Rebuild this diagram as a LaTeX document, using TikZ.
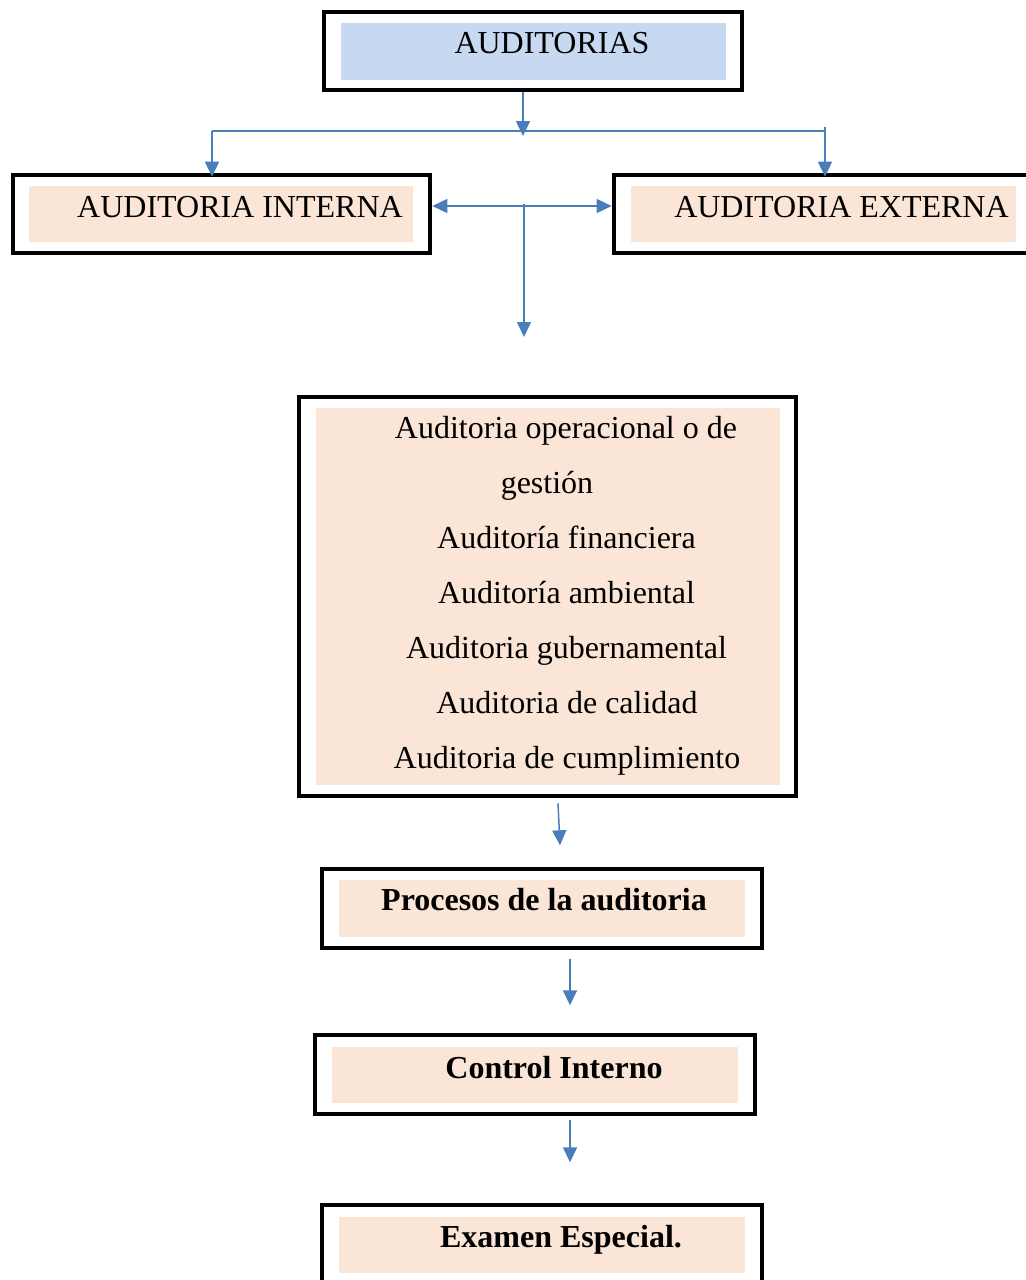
\documentclass[tikz,border=0pt]{standalone}
\usepackage{fontspec}
\setmainfont{Liberation Serif}
\usetikzlibrary{arrows.meta}
\definecolor{bluefill}{HTML}{C6D9F1}
\definecolor{peach}{HTML}{FBE5D6}
\definecolor{linkblue}{HTML}{4A7EBB}
\begin{document}
\begin{tikzpicture}[x=0.5pt,y=-0.5pt,
  frame/.style={draw=black,line width=2.3pt,inner sep=0pt},
  shade/.style={inner sep=0pt,fill=peach},
  txt/.style={inner sep=0pt,anchor=base,font=\fontsize{16}{19}\selectfont},
  link/.style={draw=linkblue,line width=0.75pt,-{Triangle[length=7.5pt,width=7pt]}}]
\useasboundingbox (0,0) rectangle (1025,1280);
\node [frame,minimum width=209pt,minimum height=39pt] (top) at (533,51) {};
\node [shade,fill=bluefill,minimum width=192.5pt,minimum height=28.5pt] (top-bg) at (533.5,51.5) {};
\node [txt] (top-txt) at (552,53) {AUDITORIAS};
\node [frame,minimum width=208.5pt,minimum height=39pt] (intern) at (221.5,214) {};
\node [shade,minimum width=192pt,minimum height=28pt] (intern-bg) at (221,214) {};
\node [txt] (intern-txt) at (240,217) {AUDITORIA INTERNA};
\node [frame,minimum width=209.5pt,minimum height=39pt] (extern) at (823.5,214) {};
\node [shade,minimum width=192.5pt,minimum height=28pt] (extern-bg) at (823.5,214) {};
\node [txt] (extern-txt) at (841.5,217) {AUDITORIA EXTERNA};
\node [frame,minimum width=248.5pt,minimum height=199.5pt] (kinds) at (547.5,596.5) {};
\node [shade,minimum width=232pt,minimum height=188.5pt] (kinds-bg) at (548,596.5) {};
\foreach \x/\t [count=\i] in {566/Auditoria operacional o de,547/gestión,566.5/Auditoría financiera,566.5/Auditoría ambiental,566.5/Auditoria gubernamental,567/Auditoria de calidad,567/Auditoria de cumplimiento}
  \node [txt] (kind-\i) at (\x,{438+55*(\i-1)}) {\t};
\node [frame,minimum width=220pt,minimum height=39.5pt] (proc) at (542,908.5) {};
\node [shade,minimum width=203pt,minimum height=28.5pt] (proc-bg) at (542,908.5) {};
\node [txt,font=\fontsize{16}{19}\selectfont\bfseries] (proc-txt) at (544,910) {Procesos de la auditoria};
\node [frame,minimum width=220pt,minimum height=39.5pt] (ctrl) at (535,1074.5) {};
\node [shade,minimum width=203pt,minimum height=28pt] (ctrl-bg) at (535,1075) {};
\node [txt,font=\fontsize{16}{19}\selectfont\bfseries] (ctrl-txt) at (554,1078) {Control Interno};
\node [frame,minimum width=220pt,minimum height=39.5pt] (exam) at (542,1244.5) {};
\node [shade,minimum width=203pt,minimum height=28pt] (exam-bg) at (542,1245) {};
\node [txt,font=\fontsize{16}{19}\selectfont\bfseries] (exam-txt) at (561,1247) {Examen Especial.};
\coordinate (split) at (523,136);
\coordinate (bl) at (212,131);
\coordinate (br) at (825,131);
\coordinate (mid) at (524,206);
\coordinate (down) at (524,337);
\draw [link] (top.south -| split) -- (split);
\draw [linkblue,line width=0.75pt] (bl) -- (br) -- ++(0,-4);
\draw [link] (bl) -- ([yshift=-2pt]bl |- intern.north);
\draw [link] (br) -- ([yshift=-2pt]br |- extern.north);
\draw [link] (mid) -- (intern.east |- mid);
\draw [link] (mid) -- (extern.west |- mid);
\draw [link] ([yshift=1pt]mid) -- (down);
\draw [link] ([shift={(10.5,5)}]kinds.south) -- ++(2,42);
\draw [link] ([shift={(28,9)}]proc.south) -- ++(0,46);
\draw [link] ([shift={(35,4)}]ctrl.south) -- ++(0,42);
\end{tikzpicture}
\end{document}
